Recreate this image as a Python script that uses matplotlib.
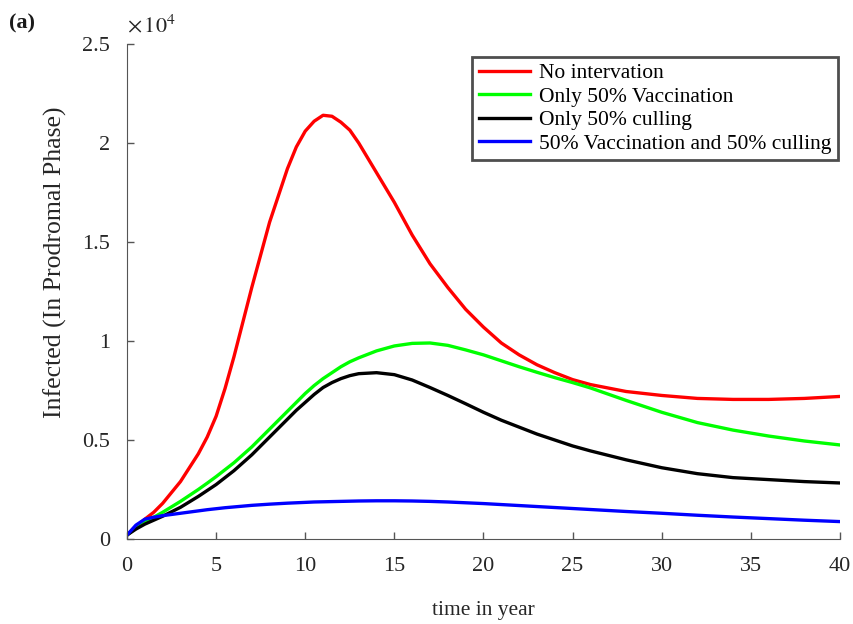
import numpy as np
import matplotlib.pyplot as plt

plt.rcParams['font.family'] = ['Liberation Serif', 'DejaVu Serif']
plt.rcParams['mathtext.fontset'] = 'stix'

# time in years (sampled)
t = [0, 0.5, 1, 1.5, 2, 3, 4, 4.5, 5, 5.5, 6, 7, 8, 9, 9.5, 10, 10.5, 11, 11.5, 12, 12.5, 13,
     14, 15, 16, 17, 18, 19, 20, 21, 22, 23, 24, 25, 26, 28, 30, 32, 34, 36, 38, 40]

# infected individuals in prodromal phase, units of 1e4
no_intervention = [0.02, 0.06, 0.10, 0.135, 0.18, 0.29, 0.43, 0.515, 0.62, 0.76, 0.92, 1.27, 1.60, 1.87,
                   1.98, 2.06, 2.11, 2.14, 2.135, 2.105, 2.065, 2.00, 1.85, 1.70, 1.535, 1.39, 1.27,
                   1.16, 1.07, 0.99, 0.93, 0.88, 0.84, 0.805, 0.78, 0.745, 0.725, 0.71, 0.705, 0.705,
                   0.71, 0.72]
vacc_only = [0.02, 0.055, 0.085, 0.11, 0.135, 0.19, 0.25, 0.282, 0.315, 0.35, 0.385, 0.465, 0.555,
             0.645, 0.69, 0.735, 0.775, 0.81, 0.84, 0.87, 0.895, 0.915, 0.95, 0.975, 0.988, 0.99,
             0.978, 0.955, 0.93, 0.90, 0.87, 0.842, 0.815, 0.79, 0.763, 0.70, 0.64, 0.588, 0.55,
             0.52, 0.495, 0.475]
cull_only = [0.02, 0.05, 0.075, 0.095, 0.115, 0.16, 0.215, 0.245, 0.275, 0.31, 0.345, 0.425, 0.515,
             0.605, 0.65, 0.69, 0.73, 0.765, 0.79, 0.81, 0.825, 0.835, 0.84, 0.83, 0.803, 0.765,
             0.725, 0.683, 0.64, 0.60, 0.565, 0.53, 0.50, 0.47, 0.445, 0.40, 0.36, 0.33, 0.31,
             0.30, 0.29, 0.283]
vacc_and_cull = [0.02, 0.07, 0.10, 0.11, 0.118, 0.13, 0.142, 0.148, 0.153, 0.158, 0.162, 0.17, 0.176,
                 0.181, 0.183, 0.185, 0.187, 0.188, 0.189, 0.19, 0.191, 0.192, 0.193, 0.193, 0.192,
                 0.19, 0.187, 0.183, 0.179, 0.174, 0.169, 0.164, 0.159, 0.154, 0.149, 0.139, 0.13,
                 0.12, 0.111, 0.103, 0.095, 0.088]

series = [
    (no_intervention, '#ff0000', 'No intervation'),
    (vacc_only, '#00ff00', 'Only 50% Vaccination'),
    (cull_only, '#000000', 'Only 50% culling'),
    (vacc_and_cull, '#0000ff', '50% Vaccination and 50% culling'),
]

fig = plt.figure(figsize=(8.54, 6.24), dpi=100)
ax = fig.add_axes([0.1487, 0.1362, 0.8349, 0.7933])

for vals, col, lab in series:
    ax.plot(t, vals, color=col, lw=2.4, label=lab, solid_joinstyle='round')

ax.set_xlim(0, 40)
ax.set_ylim(0, 2.5)
ax.set_xticks(np.arange(0, 41, 5))
ax.set_yticks([0, 0.5, 1, 1.5, 2, 2.5])
ax.set_yticklabels(['0', '0.5', '1', '1.5', '2', '2.5'])
ax.tick_params(direction='in', length=5, width=1, labelsize=16, labelcolor='#262626',
               color='#555555')
ax.tick_params(axis='x', pad=13)
ax.tick_params(axis='y', pad=12)
for s in ['top', 'right']:
    ax.spines[s].set_visible(False)
for s in ['left', 'bottom']:
    ax.spines[s].set_color('#555555')

ax.set_xlabel('time in year', fontsize=15.5, labelpad=18, color='#262626')
ax.set_ylabel('Infected (In Prodromal Phase)', fontsize=18.5, color='#262626')
ax.yaxis.set_label_coords(-0.084, 0.56)

fig.text(0.149, 0.948, r'$\times\,10^4$', fontsize=16, color='#262626')
fig.text(0.011, 0.955, '(a)', fontsize=16, fontweight='bold', color='#1a1a1a')

leg = ax.legend(loc='upper right', bbox_to_anchor=(0.997, 0.974), fontsize=15.5, frameon=True,
                fancybox=False, edgecolor='#222222', handlelength=2.4, borderpad=0.3,
                labelspacing=0.16, handletextpad=0.4, borderaxespad=0)
leg.get_frame().set_linewidth(2)

fig.savefig('out.png', dpi=100)
